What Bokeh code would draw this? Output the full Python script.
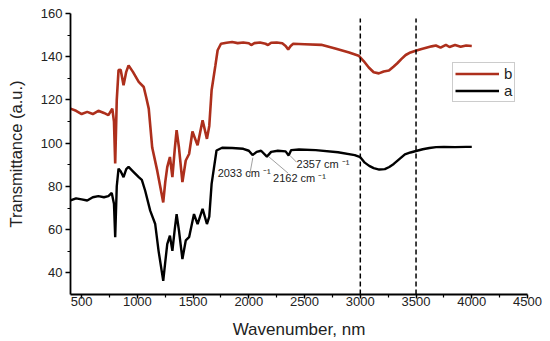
from bokeh.plotting import figure
from bokeh.models import FixedTicker, Legend, LegendItem, ColumnDataSource
from bokeh.core.properties import value
from bokeh.embed import file_html
from bokeh.resources import INLINE

# ---- data ----
wn_b = [400, 450, 500, 550, 600, 650, 700, 740, 775, 790, 801, 815, 831, 850, 876, 900, 921, 960,
        1012, 1057, 1080, 1102, 1133, 1178, 1205, 1232, 1250, 1268, 1292, 1314, 1335, 1352, 1373,
        1404, 1434, 1464, 1494, 1540, 1585, 1624, 1645, 1666, 1700, 1720, 1750, 1800, 1850, 1900,
        1950, 2000, 2021, 2050, 2100, 2150, 2172, 2200, 2250, 2300, 2330, 2353, 2375, 2398, 2500,
        2650, 2775, 2900, 2985, 3030, 3076, 3120, 3166, 3210, 3257, 3300, 3332, 3370, 3407, 3450,
        3497, 3550, 3600, 3640, 3678, 3720, 3768, 3800, 3850, 3900, 3950, 4000]
tr_b = [116, 115, 113.5, 114.5, 113.5, 115, 114, 113, 116, 110, 90.6, 120, 133.8, 134, 126.8, 133,
        136, 133, 128.4, 126, 121, 116, 98, 87.3, 80, 72.6, 82, 88.9, 93.6, 84.3, 97, 106, 98,
        82, 92, 95, 105.4, 99, 110.6, 102, 108, 124.5, 136, 143, 146, 146.5, 146.8, 146.3,
        146.6, 146.2, 145.4, 146.3, 146.6, 146, 145.4, 146.5, 146.6, 146.2, 145, 143.4, 145, 146, 145.8,
        145.5, 143.8, 142, 140.5, 138, 135, 132.8, 132.3, 133.2, 133.6, 135.5, 137, 139, 140.8, 142,
        142.8, 143.6, 144.3, 144.8, 145.2, 144.2, 145.5, 144.5, 145.4, 144.6, 145.2, 145]

wn_a = [400, 450, 500, 550, 600, 650, 700, 740, 770, 790, 801, 815, 831, 850, 876, 900, 921, 960,
        1012, 1040, 1070, 1115, 1160, 1190, 1232, 1250, 1268, 1292, 1314, 1335, 1352, 1373, 1404,
        1434, 1464, 1508, 1540, 1585, 1624, 1645, 1666, 1710, 1760, 1850, 1950, 2000, 2033, 2070,
        2110, 2162, 2200, 2260, 2330, 2357, 2380, 2450, 2600, 2800, 2950, 3000, 3040, 3080, 3120,
        3170, 3220, 3260, 3300, 3350, 3400, 3450, 3500, 3560, 3620, 3680, 3750, 3850, 3950, 4000]
tr_a = [73.5, 74.5, 74, 73.5, 75, 75.5, 75, 75.5, 77, 72, 56.5, 80, 88.2, 87, 84.3, 88, 89, 87,
        84.3, 83, 78, 68.8, 62.6, 50.2, 36.3, 45, 53.3, 57.2, 50.2, 60, 67.2, 59.6, 46.4,
        55, 56.5, 67.2, 62.6, 69.6, 62.6, 66, 81.2, 96.6, 97.9, 97.8, 97.4, 96.5, 94.5, 96,
        96.5, 93.8, 96, 96.5, 96.2, 94.3, 96.8, 97.1, 96.8, 95.8, 94.5, 93.5, 91, 89.5, 88.5,
        87.8, 88, 89, 90.4, 92.6, 94.8, 95.7, 96.4, 97.2, 97.8, 98.2, 98.3, 98.2, 98.3, 98.3]

dash_x = [3000, 3500]

ann_text = ["2033 cm \u207b\u00b9", "2162 cm \u207b\u00b9", "2357 cm \u207b\u00b9"]
ann_x = [1720, 2217, 2428]
ann_y = [86.3, 83.8, 90.2]
lead_x0 = [2006, 2177, 2367]
lead_y0 = [84.9, 93.8, 94.4]
lead_x1 = [2036, 2353, 2428]
lead_y1 = [93.3, 86.1, 91.2]

x_ticks = [500, 1000, 1500, 2000, 2500, 3000, 3500, 4000, 4500]
x_minor = [750, 1250, 1750, 2250, 2750, 3250, 3750, 4250]
y_ticks = [40, 60, 80, 100, 120, 140, 160]
y_minor = [50, 70, 90, 110, 130, 150]

x_title = "Wavenumber, nm"
y_title = "Transmittance (a.u.)"

FONT = "Liberation Sans"
RED = "#ad2f1c"

p = figure(width=550, height=341, x_range=(400, 4500), y_range=(30, 160),
           output_backend="svg", toolbar_location=None,
           min_border_left=70, min_border_right=23, min_border_top=13, min_border_bottom=47)
p.outline_line_color = None
p.xgrid.visible = False
p.ygrid.visible = False

rb = p.line(wn_b, tr_b, line_color=RED, line_width=2.6)
ra = p.line(wn_a, tr_a, line_color="black", line_width=2.4)

p.segment(x0=dash_x, y0=[30, 30], x1=dash_x, y1=[157.7, 157.7],
          line_color="black", line_width=1.5, line_dash="5 3")

p.segment(x0=lead_x0, y0=lead_y0, x1=lead_x1, y1=lead_y1, line_color="#888888", line_width=0.8)
src = ColumnDataSource(dict(x=ann_x, y=ann_y, t=ann_text))
p.text(x="x", y="y", text="t", source=src, text_font=value(FONT), text_font_size="11px",
       text_baseline="middle", text_align="left", text_color="#222222")

for ax in (p.xaxis[0], p.yaxis[0]):
    ax.axis_line_width = 1.8
    ax.major_tick_line_width = 1.5
    ax.minor_tick_line_width = 1.2
    ax.major_tick_in = 0
    ax.minor_tick_in = 0
    ax.major_label_text_font = FONT
    ax.major_label_text_font_size = "13px"
    ax.major_label_text_color = "#222222"
    ax.axis_label_text_font = FONT
    ax.axis_label_text_font_style = "normal"
    ax.axis_label_text_color = "#222222"

p.xaxis.axis_label_text_font_size = "17px"
p.yaxis.axis_label_text_font_size = "16.5px"
p.xaxis.ticker = FixedTicker(ticks=x_ticks, minor_ticks=x_minor)
p.yaxis.ticker = FixedTicker(ticks=y_ticks, minor_ticks=y_minor)
p.xaxis.major_tick_out = 4
p.xaxis.minor_tick_out = 3
p.xaxis.major_label_standoff = -2
p.yaxis.major_tick_out = 5
p.yaxis.minor_tick_out = 3
p.yaxis.major_label_standoff = 3
p.xaxis.axis_label = x_title
p.yaxis.axis_label = y_title
p.xaxis.axis_label_standoff = 11
p.yaxis.axis_label_standoff = 13

legend = Legend(items=[LegendItem(label="b", renderers=[rb]), LegendItem(label="a", renderers=[ra])],
                location=(382, 192), orientation="vertical")
legend.border_line_color = "#999999"
legend.border_line_width = 1
legend.background_fill_alpha = 1
legend.label_text_font = FONT
legend.label_text_font_size = "15px"
legend.label_text_color = "#222222"
legend.glyph_width = 44
legend.glyph_height = 17
legend.label_height = 17
legend.label_width = 8
legend.label_standoff = 5
legend.spacing = 0
legend.padding = 2
legend.margin = 0
p.add_layout(legend, "center")

open("out.html", "w").write(file_html(p, INLINE))
